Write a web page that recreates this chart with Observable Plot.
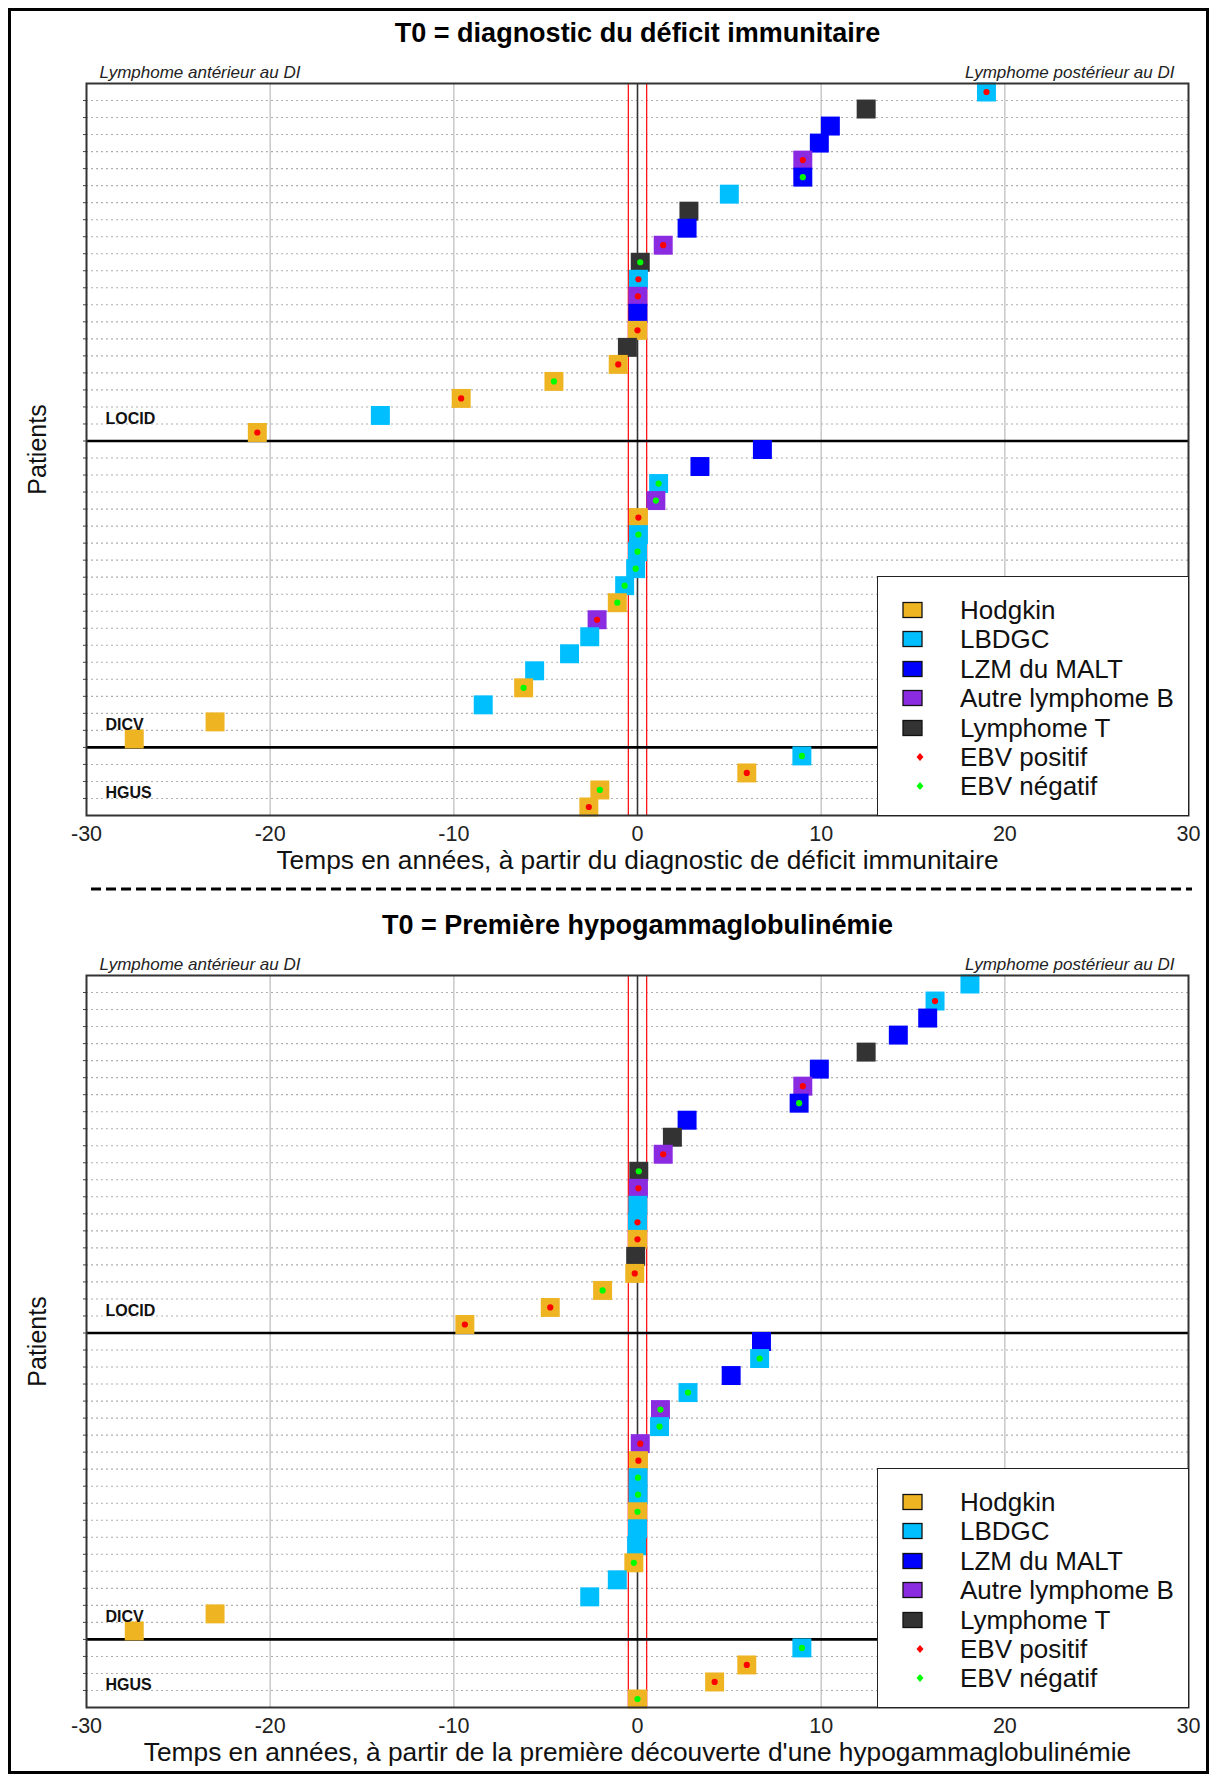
<!DOCTYPE html>
<html><head><meta charset="utf-8">
<script src="https://cdn.jsdelivr.net/npm/d3@7"></script>
<script src="https://cdn.jsdelivr.net/npm/@observablehq/plot@0.6"></script>
<style>
body{margin:0;background:#fff;font-family:"Liberation Sans",Arial,sans-serif;}
#page{position:relative;width:1211px;height:1780px;overflow:hidden;background:#fff;}
.outer{position:absolute;left:8px;top:8px;width:1201px;height:1766px;border:3px solid #000;box-sizing:border-box;}
.panel{position:absolute;left:0;}
.legend{position:absolute;left:877px;width:312px;height:240px;border:1.5px solid #222;background:#fff;box-sizing:border-box;}
.legend .item{position:absolute;left:0;height:30px;width:300px;}
.legend svg{position:absolute;left:0;top:0;}
.legend span{position:absolute;left:82px;top:0;line-height:30px;font-size:26px;color:#111;white-space:nowrap;}
#sep{position:absolute;left:0;top:880px;}
</style>
</head><body><div id="page"><div class="outer"></div></div>
<script>
// ---------- data ----------
const types = ["Hodgkin", "LBDGC", "LZM du MALT", "Autre lymphome B", "Lymphome T"];
const typeColors = ["#EEB422", "#00BFFF", "#0000FF", "#8A2BE2", "#333333"];
const ebvLabels = ["EBV positif", "EBV négatif"];
const ebvColors = ["#FF0000", "#00FF00"];
const groups = ["LOCID", "DICV", "HGUS"];
const xTicks = [-30, -20, -10, 0, 10, 20, 30];
const gridX = [-20, -10, 10, 20];
const windowX = [-0.5, 0.5];

// Panel 1 : T0 = diagnostic du déficit immunitaire
const p1LocidTime = [19.0, 12.45, 10.5, 9.9, 9.0, 9.0, 5.0, 2.8, 2.7, 1.4, 0.15, 0.05, 0.02, 0.02, 0.0, -0.55, -1.05, -4.55, -9.6, -14.0, -20.7];
const p1LocidType = ["LBDGC","Lymphome T","LZM du MALT","LZM du MALT","Autre lymphome B","LZM du MALT","LBDGC","Lymphome T","LZM du MALT","Autre lymphome B","Lymphome T","LBDGC","Autre lymphome B","LZM du MALT","Hodgkin","Lymphome T","Hodgkin","Hodgkin","Hodgkin","LBDGC","Hodgkin"];
const p1LocidEbv = ["+","","","","+","-","","","","+","-","+","+","","+","","+","-","+","","+"];
const p1DicvTime = [6.8, 3.4, 1.15, 1.0, 0.05, 0.05, 0.0, -0.1, -0.7, -1.1, -2.2, -2.6, -3.7, -5.6, -6.2, -8.4, -23.0, -27.4];
const p1DicvType = ["LZM du MALT","LZM du MALT","LBDGC","Autre lymphome B","Hodgkin","LBDGC","LBDGC","LBDGC","LBDGC","Hodgkin","Autre lymphome B","LBDGC","LBDGC","LBDGC","Hodgkin","LBDGC","Hodgkin","Hodgkin"];
const p1DicvEbv = ["","","-","-","+","-","-","-","-","-","+","","","","-","","",""];
const p1HgusTime = [8.95, 5.95, -2.05, -2.65];
const p1HgusType = ["LBDGC","Hodgkin","Hodgkin","Hodgkin"];
const p1HgusEbv = ["-","+","-","+"];

// Panel 2 : T0 = Première hypogammaglobulinémie
const p2LocidTime = [18.1, 16.2, 15.8, 14.2, 12.45, 9.9, 9.0, 8.8, 2.7, 1.9, 1.4, 0.07, 0.05, 0.02, 0.0, 0.0, -0.1, -0.15, -1.9, -4.75, -9.4];
const p2LocidType = ["LBDGC","LBDGC","LZM du MALT","LZM du MALT","Lymphome T","LZM du MALT","Autre lymphome B","LZM du MALT","LZM du MALT","Lymphome T","Autre lymphome B","Lymphome T","Autre lymphome B","LBDGC","LBDGC","Hodgkin","Lymphome T","Hodgkin","Hodgkin","Hodgkin","Hodgkin"];
const p2LocidEbv = ["","+","","","","","+","-","","","+","-","+","","+","+","","+","-","+","+"];
const p2DicvTime = [6.75, 6.65, 5.1, 2.75, 1.25, 1.2, 0.15, 0.05, 0.03, 0.03, 0.0, 0.0, -0.05, -0.2, -1.1, -2.6, -23.0, -27.4];
const p2DicvType = ["LZM du MALT","LBDGC","LZM du MALT","LBDGC","Autre lymphome B","LBDGC","Autre lymphome B","Hodgkin","LBDGC","LBDGC","Hodgkin","LBDGC","LBDGC","Hodgkin","LBDGC","LBDGC","Hodgkin","Hodgkin"];
const p2DicvEbv = ["","-","","-","-","-","+","+","-","-","-","","","-","","","",""];
const p2HgusTime = [8.95, 5.95, 4.2, 0.0];
const p2HgusType = ["LBDGC","Hodgkin","Hodgkin","Hodgkin"];
const p2HgusEbv = ["-","+","+","-"];

const titles = ["T0 = diagnostic du déficit immunitaire", "T0 = Première hypogammaglobulinémie"];
const xTitles = ["Temps en années, à partir du diagnostic de déficit immunitaire",
                 "Temps en années, à partir de la première découverte d'une hypogammaglobulinémie"];
const sideLabels = ["Lymphome antérieur au DI", "Lymphome postérieur au DI"];
const yTitle = "Patients";

// ---------- build ----------
function buildRows(groupArrays) {
  const rows = [], labels = [], bounds = [];
  let idx = 0;
  groupArrays.forEach(([time, type, ebv], g) => {
    time.forEach((t, i) => { idx++; rows.push({row: idx, time: t, type: type[i], ebv: ebv[i], group: groups[g]}); });
    labels.push({label: groups[g], y: idx - 0.5});
    if (g < groupArrays.length - 1) bounds.push(idx + 0.5);
  });
  return {rows, labels, bounds, n: idx};
}

function panel(groupArrays, k) {
  const {rows, labels, bounds, n} = buildRows(groupArrays);
  const dotted = d3.range(1, n).map(i => i + 0.5).filter(b => !bounds.includes(b));
  const allB = d3.range(1, n).map(i => i + 0.5);
  const font = "Liberation Sans, Arial, sans-serif";
  return Plot.plot({
    width: 1211, height: 880,
    marginLeft: 86, marginRight: 23, marginTop: 83, marginBottom: 65,
    x: {domain: [-30, 30], axis: null},
    y: {domain: [n + 0.5, 0.5], axis: null},
    color: {domain: types, range: typeColors},
    style: {fontFamily: font, background: "transparent", color: "#000", overflow: "visible"},
    marks: [
      Plot.ruleX(gridX, {stroke: "#c8c8c8", strokeWidth: 1.5}),
      Plot.ruleY(dotted, {stroke: "#b0b0b0", strokeWidth: 1.1, strokeDasharray: "2,3"}),
      Plot.ruleX(windowX, {stroke: "#FF0000", strokeWidth: 1.2}),
      Plot.ruleX([0], {stroke: "#333", strokeWidth: 1.6}),
      Plot.ruleY(bounds, {stroke: "#000", strokeWidth: 2.6}),
      Plot.axisY({ticks: allB, tickSize: 3, tickFormat: () => "", stroke: "#444", label: null}),
      Plot.dot(rows, {x: "time", y: "row", symbol: "square", r: 10.7, fill: "type", stroke: null}),
      Plot.dot(rows.filter(d => d.ebv === "+"), {x: "time", y: "row", r: 3.1, fill: ebvColors[0]}),
      Plot.dot(rows.filter(d => d.ebv === "-"), {x: "time", y: "row", r: 3.1, fill: ebvColors[1]}),
      Plot.frame({stroke: "#333", strokeWidth: 2}),
      Plot.text(labels, {y: "y", text: "label", frameAnchor: "left", dx: 19, textAnchor: "start", lineAnchor: "bottom", fontWeight: "bold", fontSize: 16, fill: "#111"}),
      Plot.text([titles[k]], {frameAnchor: "top", dy: -50, fontSize: 27, fontWeight: "bold", lineAnchor: "middle", fill: "#000"}),
      Plot.text([sideLabels[0]], {frameAnchor: "top-left", dx: 13, dy: -11, textAnchor: "start", lineAnchor: "middle", fontStyle: "italic", fontSize: 17, fill: "#222"}),
      Plot.text([sideLabels[1]], {frameAnchor: "top-right", dx: -14, dy: -11, textAnchor: "end", lineAnchor: "middle", fontStyle: "italic", fontSize: 17, fill: "#222"}),
      Plot.text(xTicks, {x: d => d, frameAnchor: "bottom", dy: 19, lineAnchor: "middle", fontSize: 21.5, fill: "#222"}),
      Plot.text([xTitles[k]], {frameAnchor: "bottom", dy: 45, lineAnchor: "middle", textAnchor: "middle", fontSize: 26.3, fill: "#111"}),
      Plot.text([yTitle], {frameAnchor: "left", dx: -49, rotate: -90, textAnchor: "middle", lineAnchor: "middle", fontSize: 25, fill: "#111"})
    ]
  });
}

function legend(top) {
  const box = document.createElement("div");
  box.className = "legend";
  box.style.top = top + "px";
  const items = types.map((t, i) => ({label: t, color: typeColors[i], kind: "sq"}))
    .concat(ebvLabels.map((t, i) => ({label: t, color: ebvColors[i], kind: "dia"})));
  items.forEach((it, i) => {
    const d = document.createElement("div");
    d.className = "item";
    d.style.top = (18 + i * 29.4) + "px";
    const s = d3.create("svg").attr("width", 60).attr("height", 30);
    if (it.kind === "sq") {
      s.append("rect").attr("x", 25).attr("y", 7.5).attr("width", 19).attr("height", 15)
        .attr("fill", it.color).attr("stroke", "#111").attr("stroke-width", 1.3);
    } else {
      s.append("path").attr("d", "M42,11 L45.5,15 L42,19 L38.5,15 Z").attr("fill", it.color);
    }
    d.appendChild(s.node());
    const sp = document.createElement("span");
    sp.textContent = it.label;
    d.appendChild(sp);
    box.appendChild(d);
  });
  return box;
}

const page = document.getElementById("page");
const panels = [
  [[p1LocidTime, p1LocidType, p1LocidEbv], [p1DicvTime, p1DicvType, p1DicvEbv], [p1HgusTime, p1HgusType, p1HgusEbv]],
  [[p2LocidTime, p2LocidType, p2LocidEbv], [p2DicvTime, p2DicvType, p2DicvEbv], [p2HgusTime, p2HgusType, p2HgusEbv]]
];
const tops = [0, 892];
panels.forEach((p, k) => {
  const wrap = document.createElement("div");
  wrap.className = "panel";
  wrap.style.top = tops[k] + "px";
  wrap.appendChild(panel(p, k));
  page.appendChild(wrap);
  page.appendChild(legend(tops[k] + 576));
});

// dashed separator between the two panels
const sep = d3.create("svg").attr("id", "sep").attr("width", 1211).attr("height", 20);
sep.append("line").attr("x1", 91).attr("x2", 1192).attr("y1", 9).attr("y2", 9)
  .attr("stroke", "#000").attr("stroke-width", 3).attr("stroke-dasharray", "10,5");
page.appendChild(sep.node());
</script>
</body></html>
